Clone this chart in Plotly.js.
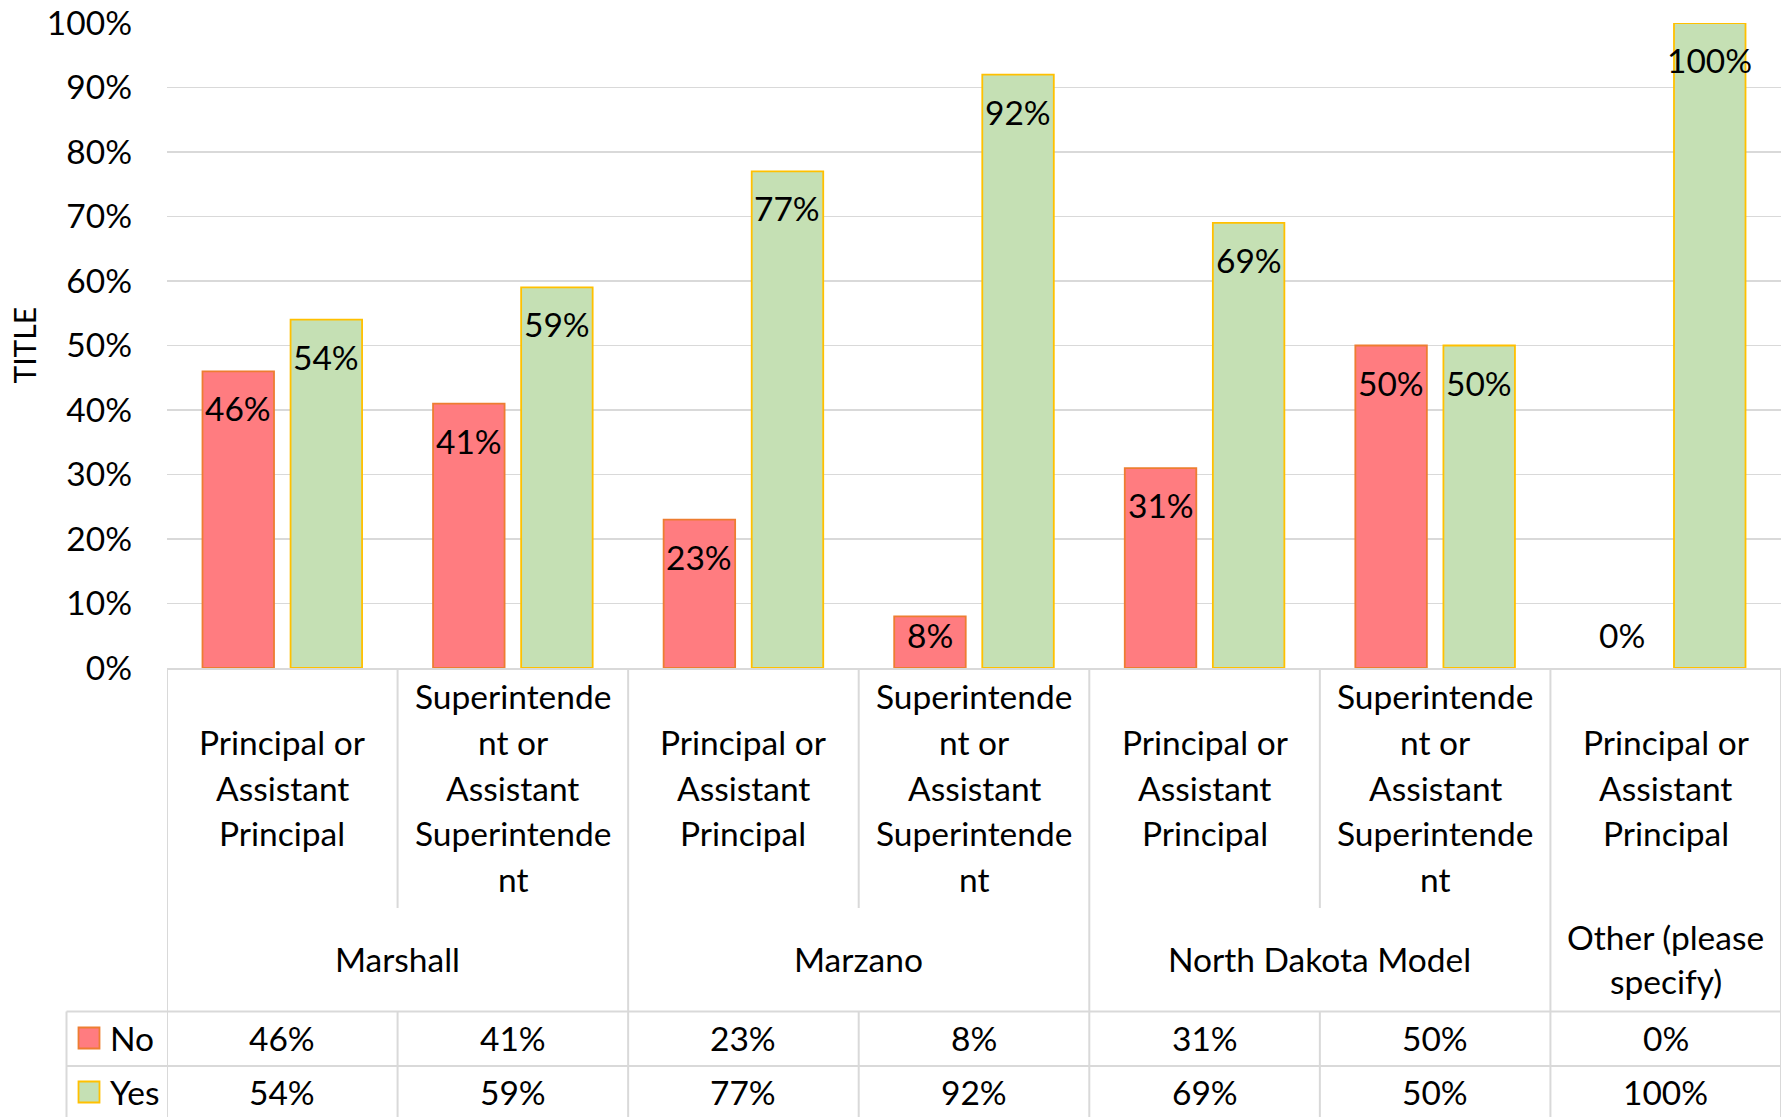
<!DOCTYPE html>
<html>
<head>
<meta charset="utf-8">
<script src="https://cdn.plot.ly/plotly-3.0.1.min.js"></script>
<style>html,body{margin:0;padding:0;background:#fff;}#chart{width:1787px;height:1117px;}</style>
</head>
<body>
<div id="chart"></div>
<script>
// ---- data ----
const categories = ["Marshall|PA", "Marshall|SA", "Marzano|PA", "Marzano|SA", "NDM|PA", "NDM|SA", "Other|PA"];
const subLabelLines = [
  ["Principal or", "Assistant", "Principal"],
  ["Superintende", "nt or", "Assistant", "Superintende", "nt"],
  ["Principal or", "Assistant", "Principal"],
  ["Superintende", "nt or", "Assistant", "Superintende", "nt"],
  ["Principal or", "Assistant", "Principal"],
  ["Superintende", "nt or", "Assistant", "Superintende", "nt"],
  ["Principal or", "Assistant", "Principal"]
];
const catGroup = [0, 0, 1, 1, 2, 2, 3];
const groupLabelLines = [["Marshall"], ["Marzano"], ["North Dakota Model"], ["Other (please", "specify)"]];
const seriesNames = ["No", "Yes"];
const noValues = [0.46, 0.41, 0.23, 0.08, 0.31, 0.50, 0.00];
const yesValues = [0.54, 0.59, 0.77, 0.92, 0.69, 0.50, 1.00];
const yTickVals = [0, 0.1, 0.2, 0.3, 0.4, 0.5, 0.6, 0.7, 0.8, 0.9, 1.0];
const yAxisTitle = "TITLE";

// ---- styling / geometry ----
const W = 1787, H = 1117;
const M = {l: 167, r: 6, t: 23, b: 449};
const PW = W - M.l - M.r, PH = H - M.t - M.b;
const baseY = H - M.b;
const FONT = "Lato, 'Open Sans', sans-serif";
const FS = 33.5;
const GRID = "#D9D9D9";
const colors = {
  No: {fill: "#FF7C80", line: "#ED7D31"},
  Yes: {fill: "#C5E0B4", line: "#FFC000"}
};
const px2x = p => (p - M.l) / PW;
const py2y = p => (baseY - p) / PH;
const pct = v => Math.round(v * 100) + "%";
const bargap = 0.236, bargroupgap = 0.188;
const slotPx = (1 - bargap) / 2 * (PW / categories.length);
const offPx = slotPx / 2;

const valuesBySeries = [noValues, yesValues];
const traces = seriesNames.map((name, si) => ({
  type: "bar",
  name: name,
  x: categories,
  y: valuesBySeries[si],
  marker: {
    color: colors[name].fill,
    line: {color: colors[name].line, width: valuesBySeries[si].map(v => v > 0 ? 1.8 : 0)}
  },
  hoverinfo: "skip",
  showlegend: false
}));

const annotations = [];
const shapes = [];

// bar data labels (inside end; pushed up when the bar is too short)
seriesNames.forEach((name, si) => {
  valuesBySeries[si].forEach((v, i) => {
    const hPx = v * PH;
    annotations.push({
      xref: "x", yref: "y", x: categories[i], y: v,
      xshift: (si === 0 ? -1 : 1) * offPx,
      yshift: -Math.min(37, hPx - 33),
      text: pct(v), showarrow: false,
      xanchor: "center", yanchor: "middle",
      font: {family: FONT, size: FS, color: "#000"}
    });
  });
});

// y axis title
annotations.push({
  xref: "paper", yref: "paper", x: px2x(23), y: 0.5,
  text: yAxisTitle, textangle: -90, showarrow: false,
  xanchor: "center", yanchor: "middle",
  font: {family: FONT, size: 30, color: "#000"}
});

// subcategory labels
const lineStep = 45.6;
const subCenter = 787.5;
subLabelLines.forEach((lines, i) => {
  const n = lines.length;
  lines.forEach((t, k) => {
    const py = subCenter + (k - (n - 1) / 2) * lineStep;
    annotations.push({
      xref: "x", yref: "paper", x: categories[i], y: py2y(py),
      text: t, showarrow: false, xanchor: "center", yanchor: "middle",
      font: {family: FONT, size: FS, color: "#000"}
    });
  });
});

// group labels
const groupCenter = 959;
groupLabelLines.forEach((lines, g) => {
  const idx = catGroup.map((c, i) => c === g ? i : -1).filter(i => i >= 0);
  const xc = (idx[0] + idx[idx.length - 1]) / 2;
  const n = lines.length;
  lines.forEach((t, k) => {
    const py = groupCenter + (k - (n - 1) / 2) * 44;
    annotations.push({
      xref: "x", yref: "paper", x: xc, y: py2y(py),
      text: t, showarrow: false, xanchor: "center", yanchor: "middle",
      font: {family: FONT, size: FS, color: "#000"}
    });
  });
});

// data table rows
const rowTop = [1011.5, 1066];
const rowCenter = [1038, 1092];
seriesNames.forEach((name, si) => {
  valuesBySeries[si].forEach((v, i) => {
    annotations.push({
      xref: "x", yref: "paper", x: i, y: py2y(rowCenter[si]),
      text: pct(v), showarrow: false, xanchor: "center", yanchor: "middle",
      font: {family: FONT, size: FS, color: "#000"}
    });
  });
  // legend key
  shapes.push({
    type: "rect", xref: "paper", yref: "paper",
    x0: px2x(78.5), x1: px2x(99.5),
    y0: py2y(rowCenter[si] - 10.5), y1: py2y(rowCenter[si] + 10.5),
    fillcolor: colors[name].fill, line: {color: colors[name].line, width: 1.8}
  });
  annotations.push({
    xref: "paper", yref: "paper", x: px2x(108), y: py2y(rowCenter[si]),
    text: name, showarrow: false, xanchor: "left", yanchor: "middle",
    font: {family: FONT, size: FS, color: "#000"}
  });
});

// table lines
const lineStyle = {color: GRID, width: 2};
const bottom = py2y(H + 5);
const legendLeft = px2x(66.5);
rowTop.forEach(py => {
  shapes.push({type: "line", xref: "paper", yref: "paper", x0: legendLeft, x1: 1, y0: py2y(py), y1: py2y(py), line: lineStyle});
});
shapes.push({type: "line", xref: "paper", yref: "paper", x0: legendLeft, x1: legendLeft, y0: py2y(rowTop[0]), y1: bottom, line: lineStyle});
for (let b = 0; b <= categories.length; b++) {
  const xb = b - 0.5;
  const isGroupEdge = b === 0 || b === categories.length || catGroup[b - 1] !== catGroup[b];
  if (isGroupEdge) {
    shapes.push({type: "line", xref: "x", yref: "paper", x0: xb, x1: xb, y0: 0, y1: bottom, line: lineStyle});
  } else {
    shapes.push({type: "line", xref: "x", yref: "paper", x0: xb, x1: xb, y0: 0, y1: py2y(908), line: lineStyle});
    shapes.push({type: "line", xref: "x", yref: "paper", x0: xb, x1: xb, y0: py2y(rowTop[0]), y1: bottom, line: lineStyle});
  }
}

const layout = {
  width: W, height: H,
  margin: M,
  paper_bgcolor: "#fff", plot_bgcolor: "#fff",
  barmode: "group", bargap: bargap, bargroupgap: bargroupgap,
  font: {family: FONT, size: FS, color: "#000"},
  showlegend: false,
  xaxis: {
    type: "category", range: [-0.5, categories.length - 0.5],
    showticklabels: false, ticks: "", showgrid: false, zeroline: false,
    showline: true, linecolor: GRID, linewidth: 2, fixedrange: true
  },
  yaxis: {
    range: [0, 1], tickvals: yTickVals, tickformat: ".0%",
    showgrid: true, gridcolor: GRID, gridwidth: 1.5, zeroline: false,
    showline: false, ticks: "", ticklabelstandoff: 34,
    tickfont: {family: FONT, size: FS, color: "#000"}, fixedrange: true
  },
  annotations: annotations,
  shapes: shapes
};

Plotly.newPlot("chart", traces, layout, {staticPlot: true, displayModeBar: false});
</script>
</body>
</html>
